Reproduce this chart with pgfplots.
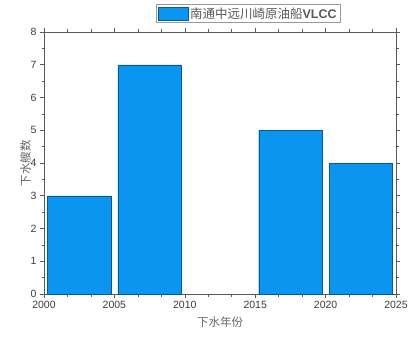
\documentclass[border=0pt]{standalone}
\usepackage{pgfplots}
\pgfplotsset{compat=1.18}
\usepackage{fontspec}
\setmainfont{Liberation Sans}
\newfontfamily\cjk{Noto Sans CJK SC}
\definecolor{barblue}{RGB}{10,150,240}
\definecolor{txt}{RGB}{60,60,60}
\begin{document}
\begin{tikzpicture}
\begin{axis}[
  scale only axis,
  width=352pt, height=262pt,
  xmin=2000, xmax=2025, ymin=0, ymax=8,
  xtick={2000,2005,...,2025},
  ytick={0,1,...,8},
  minor x tick num=2,
  minor y tick num=1,
  tick align=outside,
  x tick label style={/pgf/number format/1000 sep={}},
  /pgf/number format/assume math mode=true,
  tick label style={font=\fontsize{10.5}{12}\selectfont, text=txt},
  axis line style={draw=black!65, line width=0.8pt},
  tick style={draw=black!65, line width=0.6pt},
  major tick length=4pt, minor tick length=2.5pt,
  xlabel={\cjk 下水年份}, ylabel={\cjk 下水艘数},
  label style={font=\fontsize{11.5}{13}\selectfont, text=black!60},
  xlabel style={yshift=-1pt},
  ylabel style={yshift=-7pt},
  legend style={at={(0.58,1.035)}, anchor=south, draw=black!40,
    font=\fontsize{12.5}{14}\selectfont, text=black!65,
    inner xsep=2pt, inner ysep=1pt},
  legend image code/.code={\fill[barblue,draw=barblue!60!black,line width=0.3pt] (0pt,-6.5pt) rectangle (30pt,6.5pt);},
]
\addplot[ybar, bar width=4.5, fill=barblue, draw=barblue!60!black, line width=0.3pt]
  coordinates {(2002.5,3) (2007.5,7) (2017.5,5) (2022.5,4)};
\addlegendentry{{\cjk 南通中远川崎原油船}\textbf{VLCC}}
\end{axis}
\path ([xshift=-44pt,yshift=-44pt]current axis.south west) ([xshift=24pt,yshift=32pt]current axis.north east);
\end{tikzpicture}
\end{document}
